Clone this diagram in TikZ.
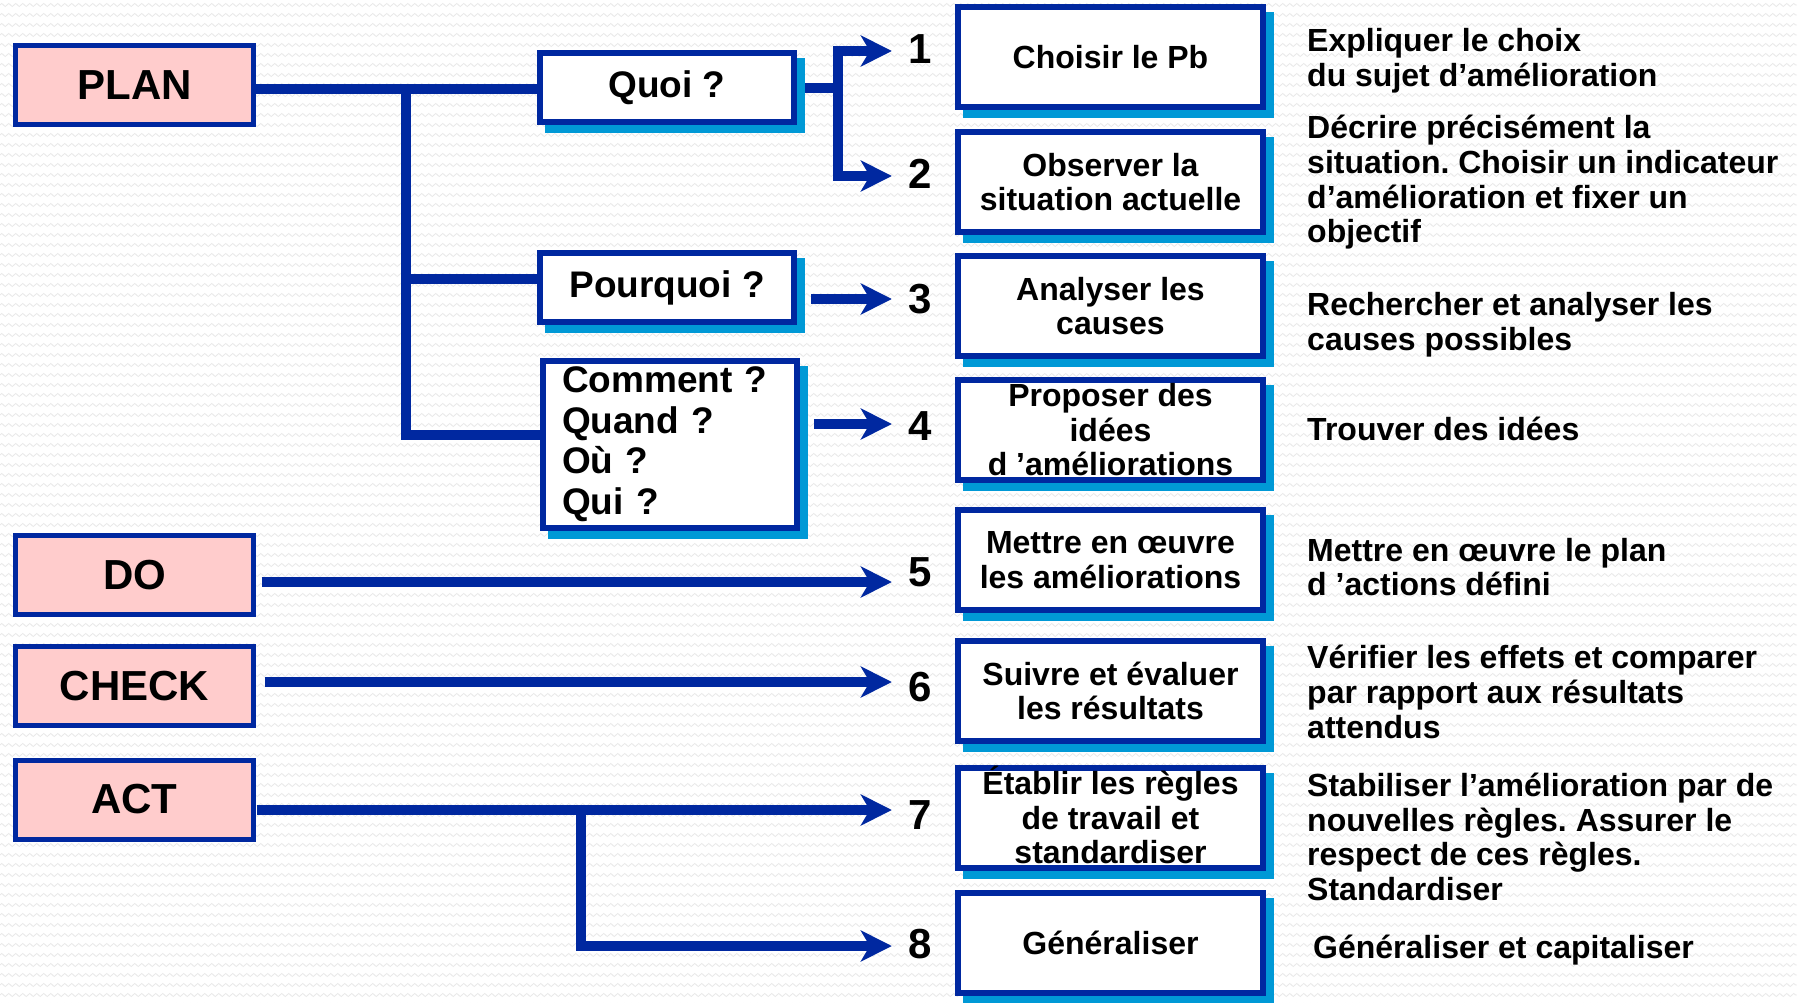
\documentclass[tikz,border=0pt]{standalone}
\usepackage{fontspec}
\setmainfont{Liberation Sans}
\usetikzlibrary{arrows.meta,decorations.pathmorphing,calc}
\definecolor{navy}{RGB}{0,40,160}
\definecolor{shadowcyan}{RGB}{0,153,214}
\definecolor{pdcapink}{RGB}{255,204,204}
\definecolor{zig}{RGB}{233,233,233}
\pgfdeclarelayer{bg}
\pgfdeclarelayer{links}
\pgfsetlayers{bg,links,main}
\frenchspacing

\begin{document}
\begin{tikzpicture}[x=1pt,y=-1pt,
  pdca/.style={draw=navy, line width=5pt, fill=pdcapink, minimum width=238pt,
    minimum height=79pt, inner sep=0pt, font=\fontsize{42}{46}\selectfont\bfseries},
  shadowed/.style={preaction={draw=shadowcyan, fill=shadowcyan, line width=6pt,
    transform canvas={shift={(8pt,-8pt)}}}},
  qbox/.style={draw=navy, line width=6pt, fill=white, shadowed, minimum width=254pt,
    minimum height=69pt, inner sep=0pt, font=\fontsize{37}{40.4}\selectfont\bfseries},
  rbox/.style={draw=navy, line width=6pt, fill=white, shadowed, minimum width=305pt,
    minimum height=100pt, inner sep=0pt},
  rtext/.style={align=center, inner sep=0pt, font=\fontsize{32}{34.4}\selectfont\bfseries},
  desc/.style={anchor=west, align=left, inner sep=0pt, font=\fontsize{32}{34.7}\selectfont\bfseries},
  num/.style={minimum width=56pt, inner sep=0pt, font=\fontsize{42}{46}\selectfont\bfseries},
  conn/.style={draw=navy, line width=10pt},
  arr/.style={conn, -{Stealth[length=31pt, width=31pt, inset=9pt]}},
  zigline/.style={draw=zig, line width=0.8pt, decorate,
    decoration={zigzag, segment length=7pt, amplitude=1.6pt}}
]
\useasboundingbox (0,0) rectangle (1797,1003);

% textured backdrop
\begin{pgfonlayer}{bg}
  \fill[white] (0,0) rectangle (1797,1003);
  \foreach \r in {0,...,100}
    \draw[zigline] (0,\r*10+5) -- (1797,\r*10+5);
\end{pgfonlayer}

% PDCA stages
\node[pdca] (plan)  at (134.5,85.5)  {PLAN};
\node[pdca] (do)    at (134.5,574.7) {DO};
\node[pdca] (check) at (134.5,686)   {CHECK};
\node[pdca] (act)   at (134.5,799.5) {ACT};

% planning questions
\node[qbox] (quoi)     at (667,87.7)  {Quoi ?};
\node[qbox] (pourquoi) at (667,287.5) {Pourquoi ?};
\node[qbox, minimum height=167pt, text width=216pt, align=left, inner xsep=19pt]
  (comment) at (670,444.3) {Comment ?\\Quand ?\\Où ?\\Qui ?};

% step numbers
\node[num] (n1) at (920,49)  {1};
\node[num] (n2) at (920,174) {2};
\node[num] (n3) at (920,299) {3};
\node[num] (n4) at (920,426) {4};
\node[num] (n5) at (920,572) {5};
\node[num] (n6) at (920,687) {6};
\node[num] (n7) at (920,815) {7};
\node[num] (n8) at (920,944) {8};

% step boxes
\node[rbox] (b1) at (1110.5,57)    {};
\node[rbox] (b2) at (1110.5,181.8) {};
\node[rbox] (b3) at (1110.5,306)   {};
\node[rbox] (b4) at (1110.5,429.7) {};
\node[rbox] (b5) at (1110.5,560)   {};
\node[rbox] (b6) at (1110.5,691)   {};
\node[rbox] (b7) at (1110.5,818)   {};
\node[rbox] (b8) at (1110.5,943)   {};
\node[rtext] (s1) at (b1) {Choisir le Pb};
\node[rtext] (s2) at (b2) {Observer la\\situation actuelle};
\node[rtext] (s3) at (b3) {Analyser les\\causes};
\node[rtext] (s4) at (b4) {Proposer des\\idées\\d ’améliorations};
\node[rtext] (s5) at (b5) {Mettre en œuvre\\les améliorations};
\node[rtext] (s6) at (b6) {Suivre et évaluer\\les résultats};
\node[rtext] (s7) at ([yshift=3pt]b7.center) {Établir les règles\\de travail et\\standardiser};
\node[rtext] (s8) at (b8) {Généraliser};

% descriptions
\node[desc] (d1) at (1307,60.5)  {Expliquer le choix\\du sujet d’amélioration};
\node[desc] (d2) at (1307,182.5) {Décrire précisément la\\situation. Choisir un indicateur\\d’amélioration et fixer un\\objectif};
\node[desc] (d3) at (1307,324.5) {Rechercher et analyser les\\causes possibles};
\node[desc] (d4) at (1307,428.6) {Trouver des idées};
\node[desc] (d5) at (1307,567)   {Mettre en œuvre le plan\\d ’actions défini};
\node[desc] (d6) at (1307,692)   {Vérifier les effets et comparer\\par rapport aux résultats\\attendus};
\node[desc] (d7) at (1307,837)   {Stabiliser l’amélioration par de\\nouvelles règles. Assurer le\\respect de ces règles.\\Standardiser};
\node[desc] (d8) at (1313,950)   {Généraliser et capitaliser};

% connectors
\coordinate (tTop) at (406,89);
\coordinate (t2) at (406,278.6);
\coordinate (t3) at (406,435);
\coordinate (j1) at (838,51);
\coordinate (j2) at (838,176);
\coordinate (p3) at (811,299);
\coordinate (p4) at (814,424);
\coordinate (a5) at (261.5,582);
\coordinate (a6) at (264.5,682);
\coordinate (a7) at (257,810);
\coordinate (b8j) at (581,810);
\coordinate (c8) at (581,946);

\begin{pgfonlayer}{links}
  \draw[conn] (plan.east |- tTop) -- (quoi.west |- tTop);
  \draw[conn] (tTop) -- (t3) -- (t3 -| comment.west);
  \draw[conn] (t2) -- (t2 -| pourquoi.west);
  \draw[conn] (quoi.east) -- (quoi.east -| j1);
  \draw[arr] (j2) -- (j1) -- (j1 -| n1.west);
  \draw[arr] (j1) -- (j2) -- (j2 -| n2.west);
  \draw[arr] (p3) -- (p3 -| n3.west);
  \draw[arr] (p4) -- (p4 -| n4.west);
  \draw[arr] (a5) -- (a5 -| n5.west);
  \draw[arr] (a6) -- (a6 -| n6.west);
  \draw[arr] (a7) -- (a7 -| n7.west);
  \draw[arr] (b8j) -- (c8) -- (c8 -| n8.west);
\end{pgfonlayer}
\end{tikzpicture}
\end{document}
